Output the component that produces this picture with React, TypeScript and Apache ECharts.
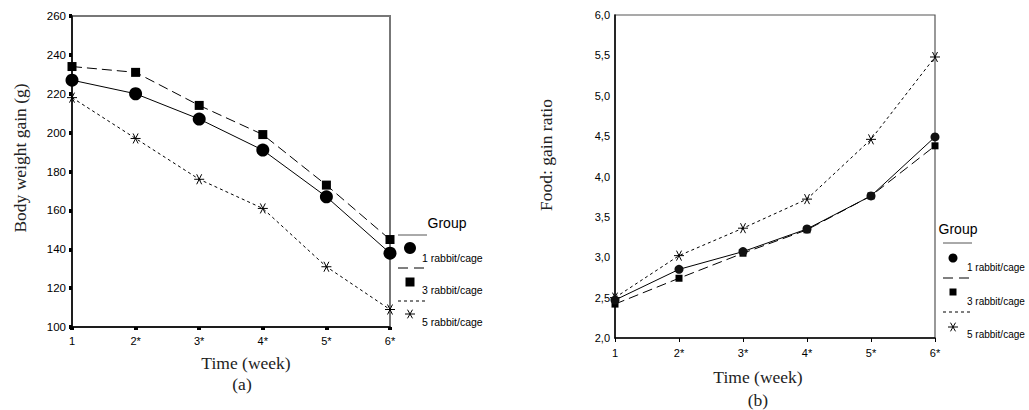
import React, { useEffect, useRef } from "react";
import * as echarts from "echarts";

const weeks = ["1", "2*", "3*", "4*", "5*", "6*"];
const gainTicks = [100, 260, 20];
const ratioTicks = [2.0, 6.0, 0.5];

const gain1 = [227, 220, 207, 191, 167, 138];
const gain3 = [234, 231, 214, 199, 173, 145];
const gain5 = [218, 197, 176, 161, 131, 109];

const ratio1 = [2.47, 2.85, 3.07, 3.35, 3.76, 4.49];
const ratio3 = [2.42, 2.74, 3.05, 3.34, 3.76, 4.38];
const ratio5 = [2.5, 3.02, 3.36, 3.72, 4.46, 5.48];

const groupNames = ["1 rabbit/cage", "3 rabbit/cage", "5 rabbit/cage"];

const SANS = "'Liberation Sans', Arial, sans-serif";
const SERIF = "'Liberation Serif', 'Times New Roman', serif";
const ASTER = "path://M0,5L10,5M2.5,0.67L7.5,9.33M2.5,9.33L7.5,0.67";

function asterisk(cx: number, cy: number, r: number) {
  const d = r * 0.866;
  const h = r * 0.5;
  const s = { stroke: "#000", lineWidth: 1 };
  return {
    type: "group",
    children: [
      { type: "line", shape: { x1: cx - r, y1: cy, x2: cx + r, y2: cy }, style: s },
      { type: "line", shape: { x1: cx - h, y1: cy - d, x2: cx + h, y2: cy + d }, style: s },
      { type: "line", shape: { x1: cx - h, y1: cy + d, x2: cx + h, y2: cy - d }, style: s },
    ],
  };
}

function legend(
  x0: number, x1: number, mx: number, tx: number,
  title: [number, number], rows: number[][], fs: number, ms: [number, number, number]
) {
  const els: any[] = [];
  els.push({
    type: "text", x: title[0], y: title[1],
    style: { text: "Group", font: `14px ${SANS}`, fill: "#000", align: "center", verticalAlign: "middle" },
  });
  const dashes = [null, [10, 6], [3, 3]];
  rows.forEach((r, i) => {
    const [ly, my, ty] = r;
    els.push({
      type: "line", shape: { x1: x0, y1: ly, x2: x1, y2: ly },
      style: { stroke: i === 0 ? "#555" : "#000", lineWidth: 1, lineDash: dashes[i] || undefined },
    });
    if (i === 0) els.push({ type: "circle", shape: { cx: mx, cy: my, r: ms[0] }, style: { fill: "#000" } });
    if (i === 1) els.push({ type: "rect", shape: { x: mx - ms[1], y: my - ms[1], width: ms[1] * 2, height: ms[1] * 2 }, style: { fill: "#000" } });
    if (i === 2) els.push(asterisk(mx, my, ms[2]));
    els.push({
      type: "text", x: tx, y: ty,
      style: { text: groupNames[i], font: `${fs}px ${SANS}`, fill: "#000", align: "left", verticalAlign: "middle" },
    });
  });
  return els;
}

export default function App() {
  const ref = useRef<HTMLDivElement>(null);
  useEffect(() => {
    if (!ref.current) return;
    const chart = echarts.init(ref.current, undefined, { renderer: "svg" });
    const fmtComma = (v: number) => v.toFixed(1).replace(".", ",");
    const option: any = {
      animation: false,
      backgroundColor: "#fff",
      grid: [
        { left: 72, top: 16, width: 318, height: 311, show: true, borderColor: "#777", borderWidth: 2, backgroundColor: "transparent" },
        { left: 615, top: 15, width: 320, height: 323, show: true, borderColor: "#555", borderWidth: 1.2, backgroundColor: "transparent" },
      ],
      xAxis: [
        {
          type: "category", gridIndex: 0, data: weeks, boundaryGap: false,
          axisLine: { lineStyle: { color: "#000", width: 1.5 } },
          axisTick: { show: true, inside: false, length: 3, alignWithLabel: true, lineStyle: { color: "#000", width: 4 } },
          axisLabel: { color: "#000", fontFamily: SANS, fontSize: 11, margin: 8 },
          splitLine: { show: false },
        },
        {
          type: "category", gridIndex: 1, data: weeks, boundaryGap: false,
          axisLine: { lineStyle: { color: "#000", width: 1.5 } },
          axisTick: { show: true, inside: false, length: 4, lineStyle: { color: "#000", width: 1 } },
          axisLabel: { color: "#000", fontFamily: SANS, fontSize: 11, margin: 9 },
          splitLine: { show: false },
        },
      ],
      yAxis: [
        {
          type: "value", gridIndex: 0, min: gainTicks[0], max: gainTicks[1], interval: gainTicks[2],
          axisLine: { show: true, lineStyle: { color: "#000", width: 1.5 } },
          axisTick: { show: true, inside: false, length: 3, lineStyle: { color: "#000", width: 4 } },
          axisLabel: { color: "#000", fontFamily: SANS, fontSize: 11.5, margin: 6 },
          splitLine: { show: false },
        },
        {
          type: "value", gridIndex: 1, min: ratioTicks[0], max: ratioTicks[1], interval: ratioTicks[2],
          axisLine: { show: true, lineStyle: { color: "#000", width: 1.5 } },
          axisTick: { show: false },
          axisLabel: { color: "#000", fontFamily: SANS, fontSize: 11, margin: 5, formatter: fmtComma },
          splitLine: { show: false },
        },
      ],
      series: [
        {
          type: "line", name: groupNames[0], xAxisIndex: 0, yAxisIndex: 0, data: gain1,
          symbol: "circle", symbolSize: 13, itemStyle: { color: "#000" },
          lineStyle: { color: "#000", width: 1, type: "solid" }, z: 5,
        },
        {
          type: "line", name: groupNames[1], xAxisIndex: 0, yAxisIndex: 0, data: gain3,
          symbol: "rect", symbolSize: 9, itemStyle: { color: "#000" },
          lineStyle: { color: "#000", width: 1, type: [10, 5] }, z: 4,
        },
        {
          type: "line", name: groupNames[2], xAxisIndex: 0, yAxisIndex: 0, data: gain5,
          symbol: ASTER, symbolSize: 10, showAllSymbol: true,
          itemStyle: { color: "transparent", borderColor: "#000", borderWidth: 1 },
          lineStyle: { color: "#000", width: 1, type: [3, 3] }, z: 3,
        },
        {
          type: "line", name: groupNames[0], xAxisIndex: 1, yAxisIndex: 1, data: ratio1,
          symbol: "circle", symbolSize: 9, itemStyle: { color: "#111" },
          lineStyle: { color: "#000", width: 1, type: "solid" }, z: 5,
        },
        {
          type: "line", name: groupNames[1], xAxisIndex: 1, yAxisIndex: 1, data: ratio3,
          symbol: "rect", symbolSize: 7, itemStyle: { color: "#000" },
          lineStyle: { color: "#000", width: 1, type: [10, 5] }, z: 4,
        },
        {
          type: "line", name: groupNames[2], xAxisIndex: 1, yAxisIndex: 1, data: ratio5,
          symbol: ASTER, symbolSize: 10, showAllSymbol: true,
          itemStyle: { color: "transparent", borderColor: "#000", borderWidth: 1 },
          lineStyle: { color: "#000", width: 1, type: [3, 3] }, z: 3,
        },
      ],
      graphic: [
        {
          type: "text", x: 20, y: 158, rotation: Math.PI / 2,
          style: { text: "Body weight gain (g)", font: `17.5px ${SERIF}`, fill: "#222", align: "center", verticalAlign: "middle" },
        },
        {
          type: "text", x: 546, y: 155, rotation: Math.PI / 2,
          style: { text: "Food: gain ratio", font: `17.5px ${SERIF}`, fill: "#222", align: "center", verticalAlign: "middle" },
        },
        {
          type: "text", x: 246, y: 363,
          style: { text: "Time (week)", font: `17.5px ${SERIF}`, fill: "#222", align: "center", verticalAlign: "middle" },
        },
        {
          type: "text", x: 242, y: 384,
          style: { text: "(a)", font: `17.5px ${SERIF}`, fill: "#222", align: "center", verticalAlign: "middle" },
        },
        {
          type: "text", x: 758, y: 377,
          style: { text: "Time (week)", font: `17.5px ${SERIF}`, fill: "#222", align: "center", verticalAlign: "middle" },
        },
        {
          type: "text", x: 758, y: 400,
          style: { text: "(b)", font: `17.5px ${SERIF}`, fill: "#222", align: "center", verticalAlign: "middle" },
        },
        ...legend(398, 427, 410, 422, [447, 223], [[235, 248, 258], [268, 282, 290], [301, 314, 322]], 10.5, [6, 4.5, 5]),
        ...legend(943, 972, 953, 967, [958, 229], [[243, 258, 267], [278, 292, 301], [312, 327, 334]], 10, [4.5, 3.5, 5]),
      ],
    };
    chart.setOption(option);
    return () => chart.dispose();
  }, []);
  return (
    <div
      ref={ref}
      style={{ position: "absolute", left: 0, top: 0, width: 1029, height: 410, background: "#fff" }}
    />
  );
}
